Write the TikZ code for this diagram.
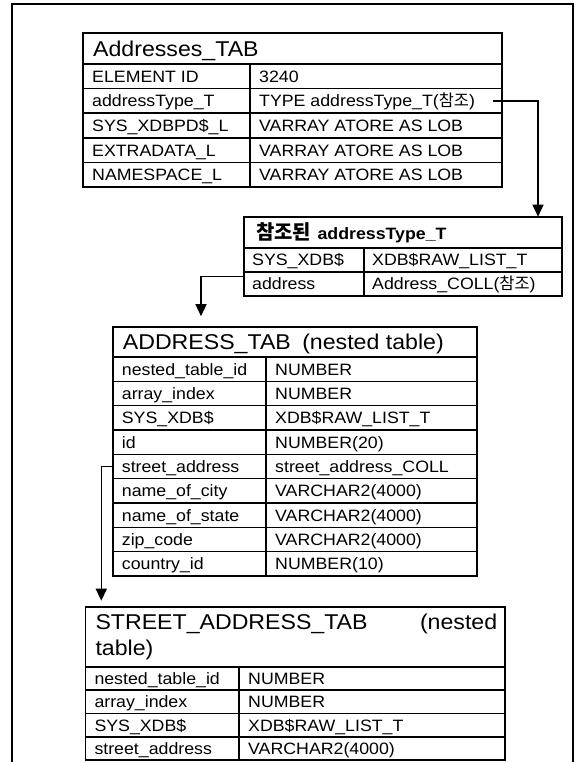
\documentclass[tikz,border=0pt]{standalone}
\usepackage{fontspec}
\setmainfont{Liberation Sans}[FakeStretch=1.08]
\newfontfamily\kr{Noto Sans CJK KR}
\usetikzlibrary{arrows.meta}
\tikzset{
  cellbox/.style={draw, rectangle, inner sep=0pt, outer sep=0pt, anchor=north west, line width=1.6bp},
  celltext/.style={inner sep=0pt, anchor=west, text height=11.8bp, text depth=0pt, font=\fontsize{16.5}{19}\selectfont},
  headtext/.style={inner sep=0pt, anchor=west, text height=15.4bp, text depth=0pt, font=\fontsize{21.5}{26}\selectfont},
  conn/.style={line width=1.5bp, -{Triangle[length=12bp,width=11bp]}},
  frameline/.style={line width=1.8bp},
}
\newcommand\cellat[7][9]{%
  \node[cellbox, minimum width=#5bp, minimum height=#6bp] (#2) at (#3,#4) {};
  \node[celltext] (#2-t) at ([xshift=#1bp]#2.west) {#7};}
\newcommand\headat[7][10]{%
  \node[cellbox, minimum width=#5bp, minimum height=#6bp] (#2) at (#3,#4) {};
  \node[headtext] (#2-t) at ([xshift=#1bp]#2.west) {#7};}
\begin{document}
\begin{tikzpicture}[x=1bp,y=-1bp]
\useasboundingbox (0,0) rectangle (580,762);
% outer frame (open at the bottom)
\draw[frameline] (12,762) -- (12,4) -- (573,4) -- (573,762);

% ---------- Addresses_TAB ----------
\headat{t1h}{83}{33}{419}{31}{Addresses\_TAB}
\cellat{t1r1a}{83}{64}{167}{24.6}{ELEMENT ID}
\cellat{t1r1b}{250}{64}{252}{24.6}{3240}
\cellat{t1r2a}{83}{88.6}{167}{24.6}{addressType\_T}
\cellat{t1r2b}{250}{88.6}{252}{24.6}{TYPE addressType\_T({\kr 참조})}
\cellat{t1r3a}{83}{113.2}{167}{24.6}{SYS\_XDBPD\$\_L}
\cellat{t1r3b}{250}{113.2}{252}{24.6}{VARRAY ATORE AS LOB}
\cellat{t1r4a}{83}{137.8}{167}{24.6}{EXTRADATA\_L}
\cellat{t1r4b}{250}{137.8}{252}{24.6}{VARRAY ATORE AS LOB}
\cellat{t1r5a}{83}{162.4}{167}{24.6}{NAMESPACE\_L}
\cellat{t1r5b}{250}{162.4}{252}{24.6}{VARRAY ATORE AS LOB}

% ---------- referenced addressType_T ----------
\headat[12]{t2h}{244}{216.7}{318}{31}{{\kr\bfseries\fontsize{20}{24}\selectfont 참조된} {\bfseries\fontsize{16.5}{19}\selectfont addressType\_T}}
\cellat[8]{t2r1a}{244}{247.7}{120}{24}{SYS\_XDB\$}
\cellat[8]{t2r1b}{364}{247.7}{198}{24}{XDB\$RAW\_LIST\_T}
\cellat[8]{t2r2a}{244}{271.7}{120}{24}{address}
\cellat[8]{t2r2b}{364}{271.7}{198}{24}{Address\_COLL({\kr 참조})}

% ---------- ADDRESS_TAB ----------
\headat{t3h}{112.7}{326.7}{364.3}{30.3}{ADDRESS\_TAB\hspace{5bp} (nested table)}
\cellat{t3r1a}{112.7}{357}{153.3}{24.33}{nested\_table\_id}
\cellat{t3r1b}{266}{357}{211}{24.33}{NUMBER}
\cellat{t3r2a}{112.7}{381.33}{153.3}{24.33}{array\_index}
\cellat{t3r2b}{266}{381.33}{211}{24.33}{NUMBER}
\cellat{t3r3a}{112.7}{405.67}{153.3}{24.33}{SYS\_XDB\$}
\cellat{t3r3b}{266}{405.67}{211}{24.33}{XDB\$RAW\_LIST\_T}
\cellat{t3r4a}{112.7}{430}{153.3}{24.33}{id}
\cellat{t3r4b}{266}{430}{211}{24.33}{NUMBER(20)}
\cellat{t3r5a}{112.7}{454.33}{153.3}{24.33}{street\_address}
\cellat{t3r5b}{266}{454.33}{211}{24.33}{street\_address\_COLL}
\cellat{t3r6a}{112.7}{478.67}{153.3}{24.33}{name\_of\_city}
\cellat{t3r6b}{266}{478.67}{211}{24.33}{VARCHAR2(4000)}
\cellat{t3r7a}{112.7}{503}{153.3}{24.33}{name\_of\_state}
\cellat{t3r7b}{266}{503}{211}{24.33}{VARCHAR2(4000)}
\cellat{t3r8a}{112.7}{527.33}{153.3}{24.33}{zip\_code}
\cellat{t3r8b}{266}{527.33}{211}{24.33}{VARCHAR2(4000)}
\cellat{t3r9a}{112.7}{551.67}{153.3}{24.33}{country\_id}
\cellat{t3r9b}{266}{551.67}{211}{24.33}{NUMBER(10)}

% ---------- STREET_ADDRESS_TAB ----------
\node[cellbox, minimum width=419.7bp, minimum height=60.3bp] (t4h) at (85.3,606.7) {};
\node[inner sep=0pt, anchor=north west, text width=401.7bp, align=left,
      font=\fontsize{21.5}{26}\selectfont] (t4h-t)
      at ([xshift=10bp, yshift=-6.9bp]t4h.north west) {STREET\_ADDRESS\_TAB\hfill(nested\\table)};
\cellat{t4r1a}{85.3}{667}{153.7}{23.25}{nested\_table\_id}
\cellat{t4r1b}{239}{667}{266}{23.25}{NUMBER}
\cellat{t4r2a}{85.3}{690.25}{153.7}{23.25}{array\_index}
\cellat{t4r2b}{239}{690.25}{266}{23.25}{NUMBER}
\cellat{t4r3a}{85.3}{713.5}{153.7}{23.25}{SYS\_XDB\$}
\cellat{t4r3b}{239}{713.5}{266}{23.25}{XDB\$RAW\_LIST\_T}
\cellat{t4r4a}{85.3}{736.75}{153.7}{23.25}{street\_address}
\cellat{t4r4b}{239}{736.75}{266}{23.25}{VARCHAR2(4000)}

% ---------- connectors ----------
\coordinate (c1) at ([xshift=-9bp]t1r2b.east);
\draw[conn] (c1) -| ([xshift=-24bp]t2h.north east);
\draw[conn] ([yshift=7bp]t2r2a.west) -| ([xshift=88.3bp, yshift=10.5bp]t3h.north west);
\draw[conn] (t3r5a.west) -| ([xshift=16bp, yshift=6bp]t4h.north west);
\end{tikzpicture}
\end{document}
